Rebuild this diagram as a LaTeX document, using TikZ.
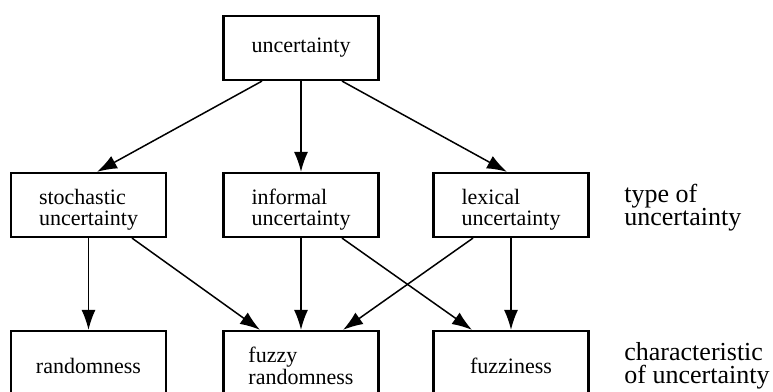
\documentclass[tikz,border=0pt]{standalone}
\usepackage{fontspec}
\setmainfont{Liberation Serif}
\usetikzlibrary{arrows.meta,calc}
\newcommand{\lowtext}[1]{\raisebox{-2.5bp}[\height][\depth]{\shortstack[l]{#1}}}
\tikzset{
  kind/.style={draw,line width=1.1bp,inner sep=0pt,minimum width=77.5bp,minimum height=32bp,
    align=left,font=\fontsize{11bp}{11bp}\selectfont},
  lowkind/.style={kind,minimum height=34.5bp},
  levellab/.style={anchor=west,inner sep=0pt,align=left,font=\fontsize{13bp}{11.5bp}\selectfont},
  edge/.style={->,line width=0.75bp},
}
\begin{document}
\begin{tikzpicture}[x=0.5bp,y=-0.5bp,>={Latex[length=10bp,width=7bp]}]
  \useasboundingbox (0,0) rectangle (773,392);
  % Node: uncert
  \node[kind] (uncert) at (301,48) {uncertainty};
  % Node: stoch, inform, lexic
  \node[kind] (stoch) at (88.5,205) {\lowtext{stochastic\\uncertainty}};
  \node[kind] (inform) at (301,205) {\lowtext{informal\\uncertainty}};
  \node[kind] (lexic) at (511,205) {\lowtext{lexical\\uncertainty}};
  % Node: random, fuzzrand, fuzzin
  \node[lowkind] (random) at (88.5,365.5) {randomness};
  \node[lowkind] (fuzzrand) at (301,365.5) {fuzzy\\randomness};
  \node[lowkind] (fuzzin) at (511,365.5) {fuzziness};
  % Node: level labels
  \node[levellab] (typelab) at (624,208) {type of\\uncertainty};
  \node[levellab] (charlab) at (624,366) {characteristic\\of uncertainty};
  % Edge: uncert -> stoch
  \draw[edge] ($(uncert.south)+(-39,0)$) -- ($(stoch.north)+(8.5,0)$);
  % Edge: uncert -> inform
  \draw[edge] (uncert.south) -- (inform.north);
  % Edge: uncert -> lexic
  \draw[edge] ($(uncert.south)+(41,0)$) -- ($(lexic.north)+(-4,0)$);
  % Edge: stoch -> random
  \draw[edge] (stoch.south) -- (random.north);
  % Edge: stoch -> fuzzrand
  \draw[edge] ($(stoch.south)+(43.5,0)$) -- ($(fuzzrand.north)+(-41,0)$);
  % Edge: inform -> fuzzrand
  \draw[edge] (inform.south) -- (fuzzrand.north);
  % Edge: inform -> fuzzin
  \draw[edge] ($(inform.south)+(41,0)$) -- ($(fuzzin.north)+(-39,0)$);
  % Edge: lexic -> fuzzrand
  \draw[edge] ($(lexic.south)+(-38,0)$) -- ($(fuzzrand.north)+(42,0)$);
  % Edge: lexic -> fuzzin
  \draw[edge] (lexic.south) -- (fuzzin.north);
\end{tikzpicture}
\end{document}
